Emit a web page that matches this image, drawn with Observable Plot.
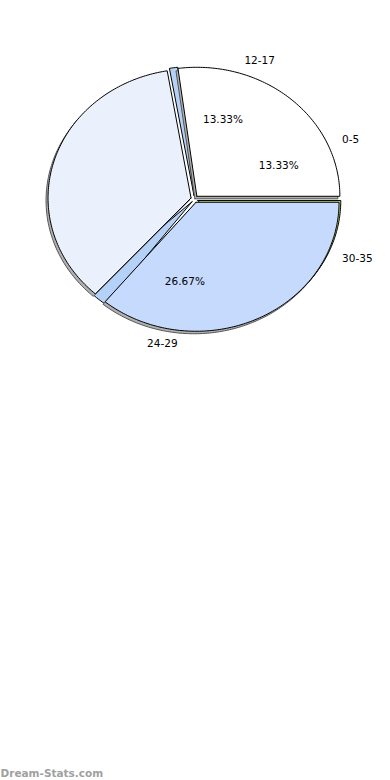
<!DOCTYPE html>
<html><head><meta charset="utf-8">
<script src="https://cdn.jsdelivr.net/npm/d3@7"></script>
<script src="https://cdn.jsdelivr.net/npm/@observablehq/plot@0.6"></script>
<style>body{margin:0;background:#fff}#chart svg{display:block}</style>
</head><body><div id="chart"></div>
<script>
// Labelled age groups and their counts (read from the percentages: n/15)
const ageGroups = ["0-5", "12-17", "18-23", "24-29", "30-35"];
const counts = [2, 2, 5, 4, 2];
const showName = [true, true, false, true, true];
const showPct = [true, true, false, true, false];

// Wedges as they are drawn (angles in degrees, counter-clockwise from 3 o'clock)
const wedgeNames = ["edge 12-17 / 18-23", "edge 18-23 / 24-29", "0-5 / 12-17", "18-23", "30-35", "24-29"];
const wedgeStartDeg = [96.5, 223, 0, 99.6, 312, 230.5];
const wedgeSweepDeg = [3.4, 10, 97.6, 128.4, 48, 129.5];
const wedgeColors = ["#b4d2f8", "#b4d2f8", "#ffffff", "#eaf1fd", "#bcd977", "#c6dafd"];
const wedgeHasShadow = [false, false, true, true, true, true];

const watermark = "Dream-Stats.com";

// ---- layout / style constants ----
const W = 390, H = 780;
const CX = 194, CY = 198.5, RX = 143, RY = 129;
const EXPLODE = 3.6;
const SHADOW = {dx: -2, dy: 2.5};
const FONT = "DejaVu Sans, sans-serif";
const rad = d => d * Math.PI / 180;

const wedges = wedgeNames.map((name, i) => {
  const start = wedgeStartDeg[i], sweep = wedgeSweepDeg[i];
  const n = Math.max(4, Math.ceil(sweep));
  const pts = [{x: 0, y: 0}];
  for (let k = 0; k <= n; k++) {
    const a = rad(start + sweep * k / n);
    pts.push({x: Math.cos(a), y: Math.sin(a)});
  }
  pts.push({x: 0, y: 0});
  const mid = rad(start + sweep / 2);
  return {name, pts, color: wedgeColors[i], shadow: wedgeHasShadow[i],
    dx: EXPLODE * Math.cos(mid), dy: -EXPLODE * Math.sin(mid)};
});

const total = d3.sum(counts);
const ends = d3.cumsum(counts);
const labels = ageGroups.map((g, i) => {
  const mid = rad(((ends[i] - counts[i] / 2) / total) * 360);
  return {g, pct: (counts[i] / total * 100).toFixed(2) + "%",
    c: Math.cos(mid), s: Math.sin(mid), showName: showName[i], showPct: showPct[i]};
});
const LR = 1.13, PR = 0.645;
const nameRight = labels.filter(d => d.showName && d.c >= 0);
const nameLeft = labels.filter(d => d.showName && d.c < 0);
const pcts = labels.filter(d => d.showPct);

const wedgeMark = (w, fill, stroke, ox, oy) =>
  Plot.line(w.pts, {x: "x", y: "y", fill, stroke, strokeWidth: 1, strokeLinejoin: "round",
    dx: w.dx + ox, dy: w.dy + oy, curve: "linear"});

const marks = [];
for (const w of wedges.filter(w => !w.shadow)) marks.push(wedgeMark(w, w.color, "#000", 0, 0));
for (const w of wedges.filter(w => w.shadow)) marks.push(wedgeMark(w, "#b0b0b0", "#555", SHADOW.dx, SHADOW.dy));
for (const w of wedges.filter(w => w.shadow)) marks.push(wedgeMark(w, w.color, "#000", 0, 0));
marks.push(
  Plot.text(nameRight, {x: d => LR * d.c, y: d => LR * d.s, text: "g", textAnchor: "start",
    fontSize: 10.5, fontFamily: FONT, fill: "#000"}),
  Plot.text(nameLeft, {x: d => LR * d.c, y: d => LR * d.s, text: "g", textAnchor: "end",
    fontSize: 10.5, fontFamily: FONT, fill: "#000"}),
  Plot.text(pcts, {x: d => PR * d.c, y: d => PR * d.s, text: "pct", textAnchor: "middle",
    fontSize: 10.5, fontFamily: FONT, fill: "#000"}),
  Plot.text([watermark], {frameAnchor: "bottom-left", text: d => d, dy: -4,
    fontSize: 10.5, fontWeight: "bold", fontFamily: FONT, fill: "#a0a0a0"})
);

const chart = Plot.plot({
  width: W, height: H, margin: 0,
  x: {type: "linear", domain: [-1, 1], range: [CX - RX, CX + RX], axis: null},
  y: {type: "linear", domain: [-1, 1], range: [CY + RY, CY - RY], axis: null},
  style: {background: "#fff", fontFamily: FONT},
  marks
});
document.getElementById("chart").append(chart);
</script>
</body></html>
